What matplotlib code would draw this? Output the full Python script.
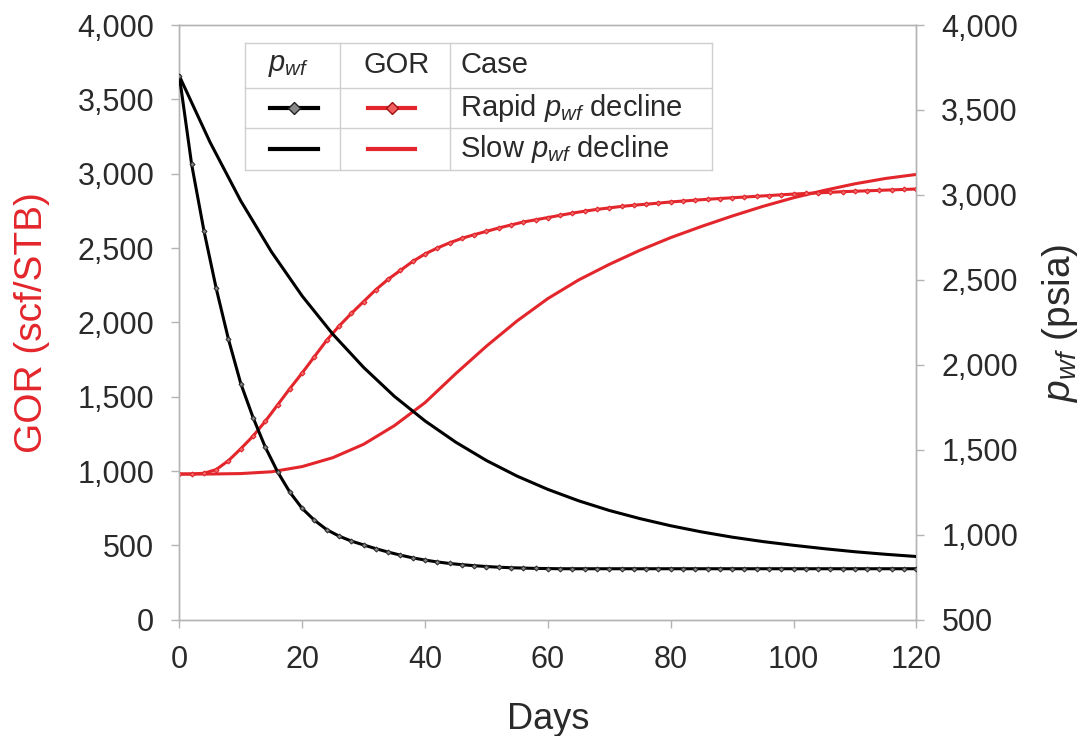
import matplotlib.pyplot as plt
from matplotlib.lines import Line2D
from matplotlib.ticker import FuncFormatter

plt.rcParams['font.family'] = ['Liberation Sans', 'DejaVu Sans']
plt.rcParams['mathtext.fontset'] = 'custom'
plt.rcParams['mathtext.rm'] = 'Liberation Sans'
plt.rcParams['mathtext.it'] = 'Liberation Sans:italic'

# Data (days, GOR scf/STB, pwf psia)
days_rapid = list(range(0, 121, 2))
pwf_rapid = [3700, 3180, 2790, 2450, 2150, 1890, 1690, 1515, 1370, 1250,
             1155, 1085, 1030, 992, 963, 940, 918, 898, 880, 864,
             851, 840, 831, 824, 818, 813, 809, 806, 804, 802,
             801, 800, 800, 800, 800, 800, 800, 800, 800, 800,
             800, 800, 800, 800, 800, 800, 800, 800, 800, 800,
             800, 800, 800, 800, 800, 800, 800, 800, 800, 800,
             800]
gor_rapid = [980, 980, 985, 1010, 1070, 1150, 1235, 1335, 1445, 1555,
             1660, 1770, 1880, 1975, 2060, 2140, 2220, 2290, 2350, 2410,
             2460, 2500, 2535, 2565, 2590, 2612, 2635, 2655, 2675, 2690,
             2705, 2720, 2735, 2748, 2760, 2770, 2780, 2788, 2795, 2802,
             2810, 2816, 2822, 2828, 2833, 2838, 2843, 2848, 2853, 2858,
             2863, 2867, 2871, 2875, 2879, 2882, 2885, 2888, 2891, 2894,
             2897]

days_slow = list(range(0, 121, 5))
pwf_slow = [3700, 3310, 2965, 2665, 2405, 2180, 1985, 1815, 1670, 1545,
            1437, 1345, 1267, 1200, 1143, 1095, 1053, 1017, 986, 960,
            938, 918, 900, 885, 872]
gor_slow = [980, 980, 983, 995, 1030, 1090, 1180, 1305, 1460, 1655,
            1840, 2010, 2160, 2285, 2390, 2485, 2570, 2645, 2715, 2780,
            2838, 2888, 2932, 2968, 2995]

gor_ticks = list(range(0, 4001, 500))
pwf_ticks = list(range(500, 4001, 500))
day_ticks = list(range(0, 121, 20))

RED = '#e3262b'
GREY = '#b4b4b4'
TXT = '#2a2a2a'

fig = plt.figure(figsize=(10.87, 7.36), dpi=100)
ax = fig.add_subplot(111)
fig.subplots_adjust(left=0.165, right=0.843, top=0.966, bottom=0.158)
ax2 = ax.twinx()

# GOR on the left axis
ax.plot(days_slow, gor_slow, color=RED, lw=2.2, zorder=3)
ax.plot(days_rapid, gor_rapid, color=RED, lw=2.2, marker='D', ms=2.5,
        mfc='#f07070', mec=RED, mew=0.8, zorder=3)

# pwf on the right axis
ax2.plot(days_slow, pwf_slow, color='black', lw=2.2, zorder=3)
ax2.plot(days_rapid, pwf_rapid, color='black', lw=2.2, marker='D', ms=2.5,
         mfc='#888888', mec='#333333', mew=0.8, zorder=3)

ax.set_xlim(0, 120)
ax.set_ylim(0, 4000)
ax2.set_ylim(500, 4000)
ax.set_xticks(day_ticks)
ax.set_yticks(gor_ticks)
ax2.set_yticks(pwf_ticks)
fmt = FuncFormatter(lambda v, p: f'{int(v):,}')
ax.yaxis.set_major_formatter(fmt)
ax2.yaxis.set_major_formatter(fmt)

for a in (ax, ax2):
    for s in a.spines.values():
        s.set_color(GREY)
        s.set_linewidth(1.0)
    a.tick_params(colors=GREY, labelcolor=TXT, labelsize=22, length=6,
                  width=1, pad=12)

ax.set_xlabel('Days', fontsize=26, color=TXT, labelpad=20)
ax.set_ylabel('GOR (scf/STB)', fontsize=28, color=RED, labelpad=20)
ax2.set_ylabel(r'$p_{wf}$ (psia)', fontsize=28, color=TXT, labelpad=16)

# table-style legend
x0, x1, x2, x3 = 0.0896, 0.2185, 0.3677, 0.7232
y0, y1, y2, y3 = 0.970, 0.894, 0.827, 0.756
lkw = dict(transform=ax2.transAxes, color='#cfcfcf', lw=1.0, clip_on=False, zorder=5)
for yy in (y0, y1, y2, y3):
    ax2.add_line(Line2D([x0, x3], [yy, yy], **lkw))
for xx in (x0, x1, x2, x3):
    ax2.add_line(Line2D([xx, xx], [y3, y0], **lkw))

fs = 21
ax2.text(0.148, 0.932, r'$p_{wf}$', transform=ax2.transAxes, fontsize=fs,
         ha='center', va='center', color=TXT)
ax2.text(0.2944, 0.932, 'GOR', transform=ax2.transAxes, fontsize=fs,
         ha='center', va='center', color=TXT)
ax2.text(0.3813, 0.932, 'Case', transform=ax2.transAxes, fontsize=fs,
         ha='left', va='center', color=TXT)
ax2.text(0.3813, 0.861, r'Rapid $p_{wf}$ decline', transform=ax2.transAxes,
         fontsize=fs, ha='left', va='center', color=TXT)
ax2.text(0.3813, 0.792, r'Slow $p_{wf}$ decline', transform=ax2.transAxes,
         fontsize=fs, ha='left', va='center', color=TXT)

skw = dict(transform=ax2.transAxes, lw=3, clip_on=False, zorder=6)
ax2.add_line(Line2D([0.1235, 0.1555, 0.1886], [0.861, 0.861, 0.861], color='black',
                    marker='D', markevery=[1], ms=6, mfc='#888888', mec='#222222',
                    **skw))
ax2.add_line(Line2D([0.2565, 0.2883, 0.3202], [0.861, 0.861, 0.861], color=RED,
                    marker='D', markevery=[1], ms=6, mfc='#f06060', mec='#a01010',
                    **skw))
ax2.add_line(Line2D([0.1235, 0.1886], [0.792, 0.792], color='black', **skw))
ax2.add_line(Line2D([0.2565, 0.3202], [0.792, 0.792], color=RED, **skw))

fig.savefig('out.png', dpi=100)
